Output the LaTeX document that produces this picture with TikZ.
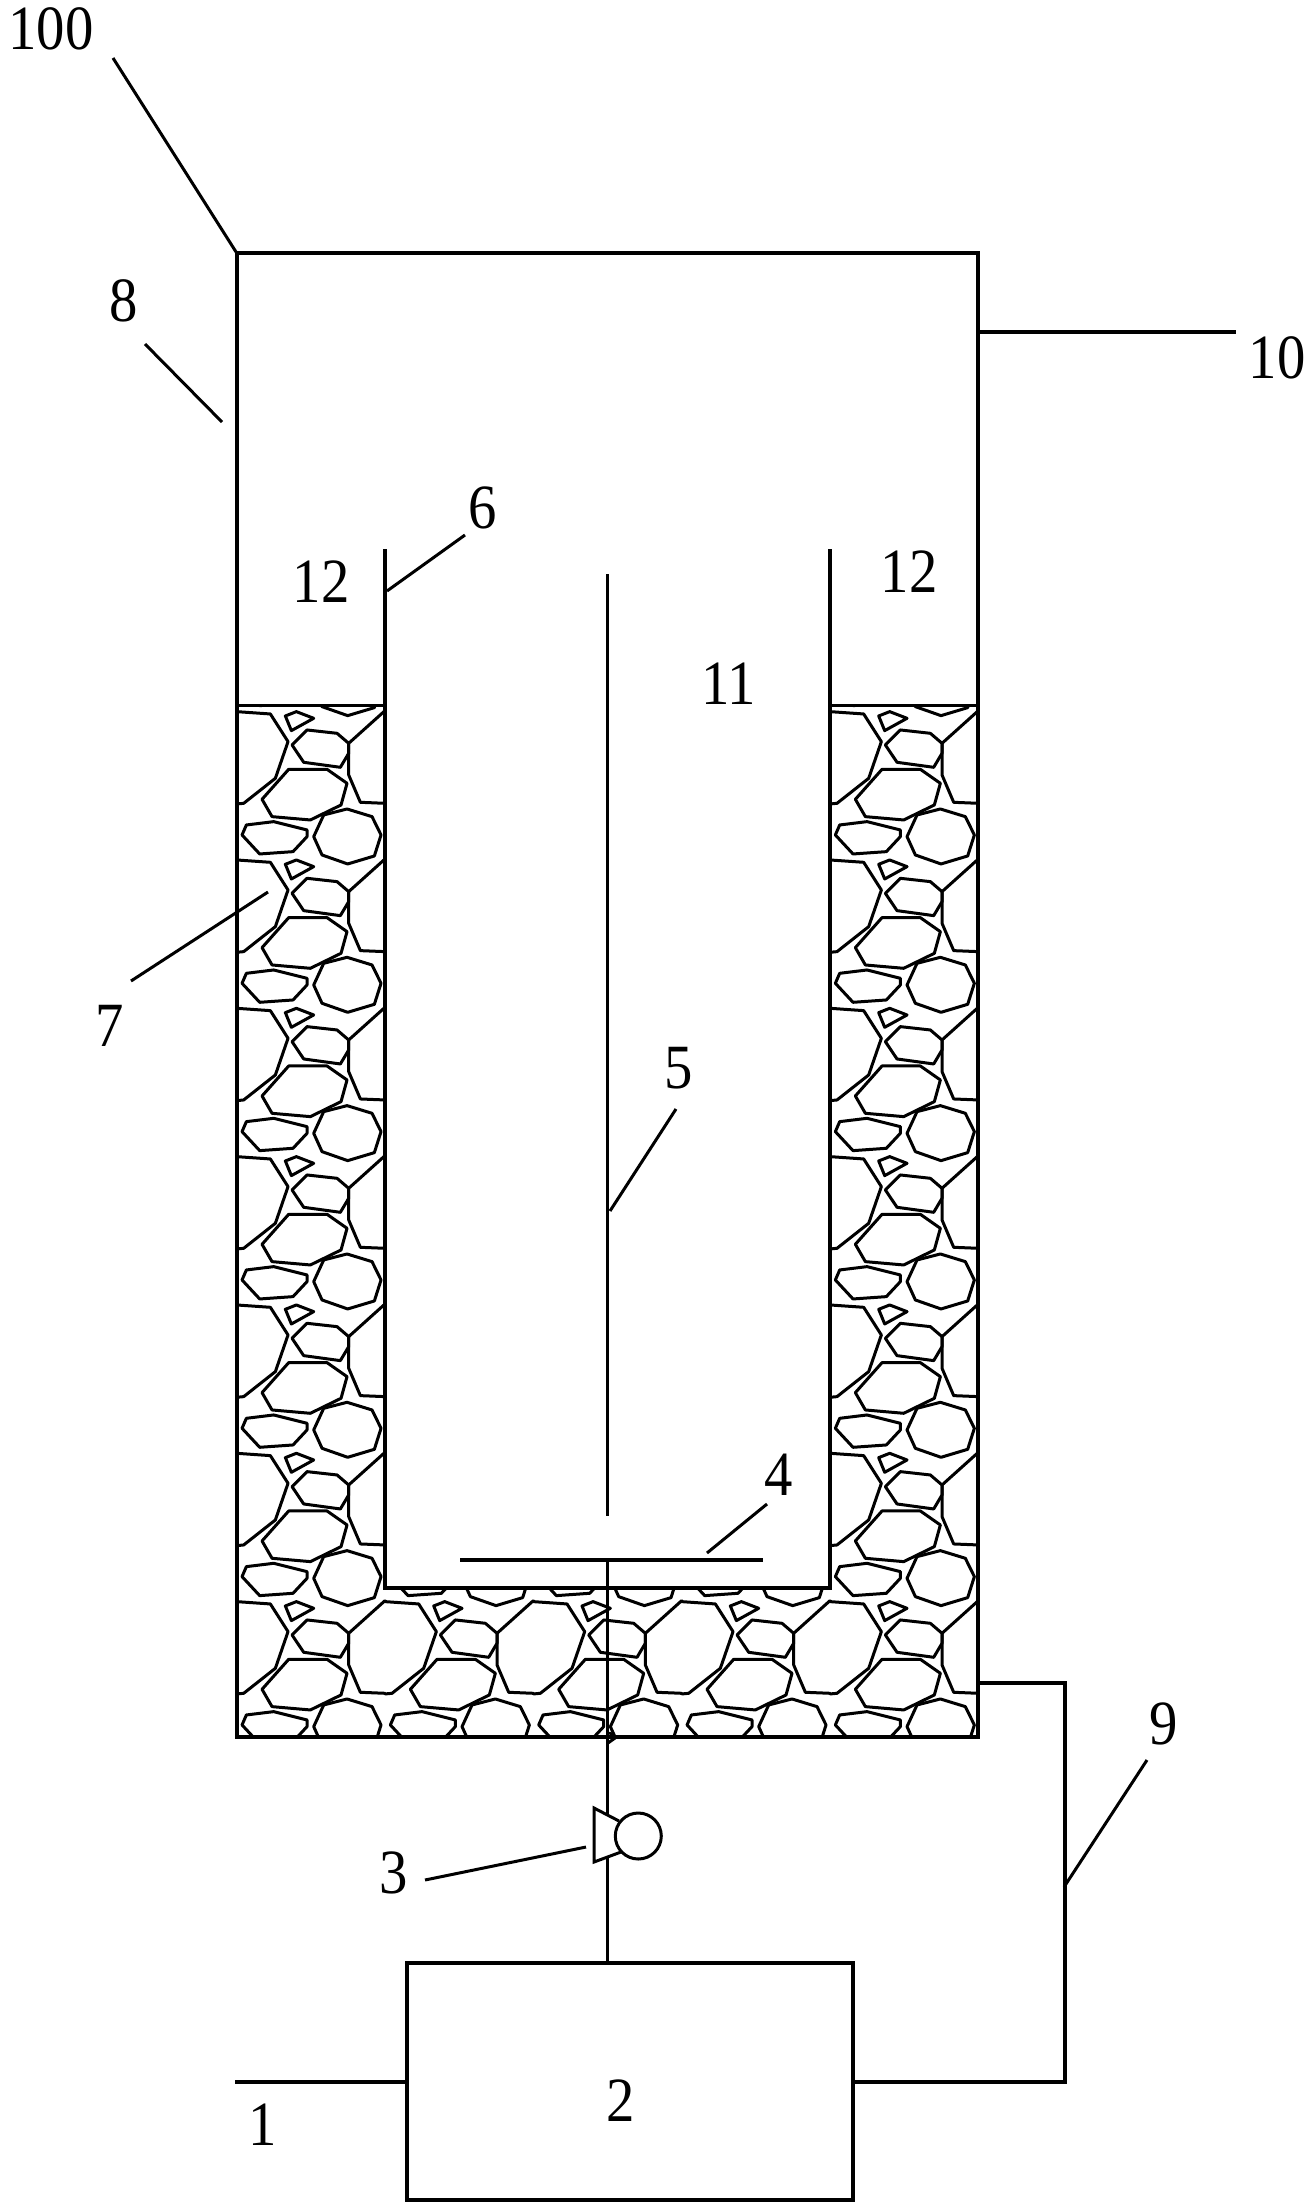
\documentclass[tikz,border=0pt]{standalone}
\usepackage{fontspec}
\setmainfont[FakeStretch=0.9]{Liberation Serif}
\tikzset{
  wall/.style={line width=3.6pt,line join=miter},
  stone/.style={line width=3pt,line join=round,line cap=round},
  leader/.style={line width=3pt},
  num/.style={font=\fontsize{63}{63}\selectfont,inner sep=0pt,yshift=2.5pt},
  boxnode/.style={draw,line width=3.6pt,inner sep=0pt},
}
\newcommand{\gravelTile}{%
  \draw[stone] (49,65)--(150,72)--(203,155)--(165,265)--(70,340)--(49,342);
  \draw[stone] (195,78)--(228,65)--(280,85)--(213,122)--cycle;
  \draw[stone] (215,165)--(260,120)--(350,130)--(385,160)--(385,190)--(360,232)--(250,217)--cycle;
  \draw[stone] (125,328)--(205,238)--(320,238)--(380,280)--(362,345)--(270,390)--(155,380)--cycle;
  \draw[stone] (494,62)--(385,160)--(385,255)--(420,337)--(494,340);
  \draw[stone] (65,435)--(78,405)--(160,395)--(260,420)--(260,440)--(218,485)--(118,492)--cycle;
  \draw[stone] (280,440)--(310,375)--(380,357)--(455,380)--(482,435)--(462,498)--(382,522)--(305,495)--cycle;
}
\begin{document}
\begin{tikzpicture}[x=1pt,y=-1pt]
\useasboundingbox (0,0) rectangle (1309,2205);
% gravel
\begin{scope}
  \clip (236.7,705.3) rectangle (978,1737);
  \foreach \c in {0,...,4}{
    \foreach \r in {-1,...,6}{
      \pgfmathsetmacro{\px}{236.7+\c*148.33}
      \pgfmathsetmacro{\py}{-(705.3+\r*148.33)}
      \begin{scope}[shift={(\px pt,\py pt)},x=0.33333pt,y=-0.33333pt,shift={(-49,-46)}]
        \gravelTile
      \end{scope}
    }
  }
\end{scope}
% inner tube interior
\fill[white] (385,700) rectangle (830,1588);
% named points
\coordinate (tankTL) at (236.7,253);
\coordinate (tankTR) at (978,253);
\coordinate (tankBL) at (236.7,1737);
\coordinate (tankBR) at (978,1737);
\coordinate (tubeTL) at (385,549);
\coordinate (tubeTR) at (830,549);
\coordinate (tubeBL) at (385,1588);
\coordinate (tubeBR) at (830,1588);
\draw[wall] (tankTL) -- (tankTR) -- (tankBR) -- (tankBL) -- cycle;
\draw[wall] (tubeTL) -- (tubeBL) -- (tubeBR) -- (tubeTR);
\draw[wall] (236.7,705.3) -- (385,705.3) (830,705.3) -- (978,705.3);
% shaft and plate
\coordinate (shaftTop) at (607.3,574);
\coordinate (shaftEnd) at (607.3,1516);
\coordinate (plateL) at (460,1560);
\coordinate (plateR) at (763,1560);
\coordinate (plateC) at (607.3,1560);
\draw[wall] (shaftTop) -- (shaftEnd);
\draw[wall] (plateL) -- (plateR);
% box
\node[boxnode,minimum width=446pt,minimum height=237pt] (unit) at (630,2081.5) {};
\coordinate (unitTop) at (607.3,1963);
\draw[wall] (plateC) -- (unitTop);
\draw[stone] (610,1733) -- (615,1738) -- (608,1743);
% pump
\fill[white,draw=black,line width=3pt,line join=miter] (619,1821) -- (594,1808) -- (594,1862) -- (621,1852);
\node[circle,draw,line width=3pt,fill=white,minimum size=46pt,inner sep=0pt] (pumpO) at (638.3,1836) {};
% pipes
\coordinate (feed) at (235,2082);
\draw[wall] (feed) -- (unit.west |- feed);
\coordinate (outA) at (1065,2082);
\coordinate (outB) at (1065,1683);
\coordinate (outC) at (978,1683);
\draw[wall] (unit.east |- outA) -- (outA) -- (outB) -- (outC);
\coordinate (ventA) at (978,332);
\coordinate (ventB) at (1236,332);
\draw[wall] (ventA) -- (ventB);
% leaders
\coordinate (l100a) at (113,58); \coordinate (l100b) at (236.7,253);
\coordinate (l8a) at (145,344); \coordinate (l8b) at (222,422);
\coordinate (l6a) at (387,591); \coordinate (l6b) at (465,535);
\coordinate (l7a) at (131,981); \coordinate (l7b) at (268,892);
\coordinate (l5a) at (610,1211); \coordinate (l5b) at (676,1109);
\coordinate (l4a) at (707,1553); \coordinate (l4b) at (767,1504);
\coordinate (l3a) at (425,1880); \coordinate (l3b) at (586,1847);
\coordinate (l9a) at (1064,1887); \coordinate (l9b) at (1147,1760);
\foreach \n in {100,8,6,7,5,4,3,9}{
  \draw[leader] (l\n a) -- (l\n b);
}
% labels
\node[num] (t100) at (51,31) {100};
\node[num] (t8) at (124,303) {8};
\node[num] (t10) at (1277,360) {10};
\node[num] (t6) at (483,510) {6};
\node[num] (t12a) at (321,584) {12};
\node[num] (t12b) at (909,574) {12};
\node[num] (t11) at (729,686) {11};
\node[num] (t7) at (110,1028) {7};
\node[num] (t5) at (679,1071) {5};
\node[num] (t4) at (779,1477) {4};
\node[num] (t3) at (394,1875) {3};
\node[num] (t9) at (1164,1726) {9};
\node[num] (t2) at (621,2103) {2};
\node[num] (t1) at (263,2127) {1};
\end{tikzpicture}
\end{document}
